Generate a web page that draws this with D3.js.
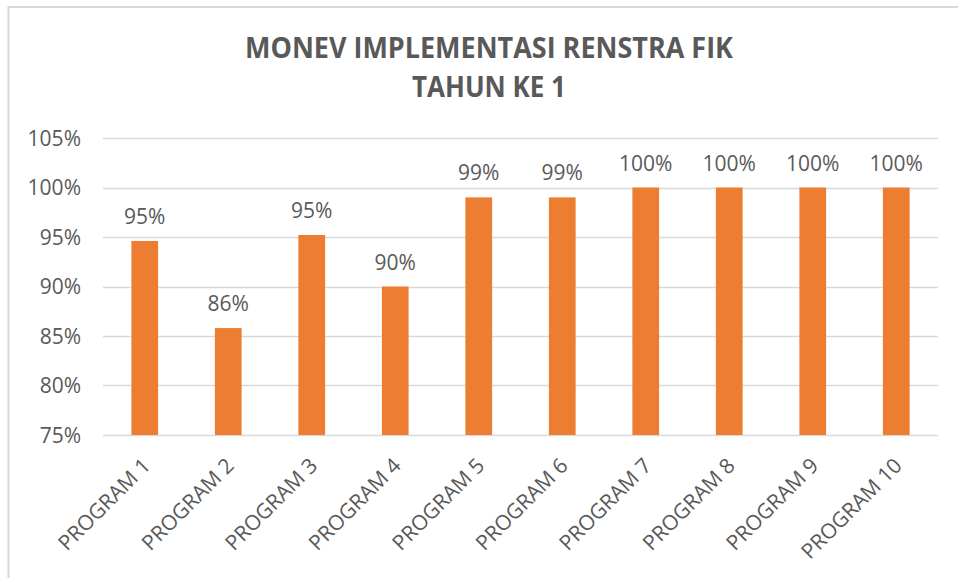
<!DOCTYPE html>
<html>
<head>
<meta charset="utf-8">
<script src="https://cdn.jsdelivr.net/npm/d3@7/dist/d3.min.js"></script>
<style>
  html, body { margin: 0; padding: 0; background: #ffffff; }
  svg { display: block; }
</style>
</head>
<body>
<svg id="chart" width="958" height="578"></svg>
<script>
const categories = ["PROGRAM 1","PROGRAM 2","PROGRAM 3","PROGRAM 4","PROGRAM 5","PROGRAM 6","PROGRAM 7","PROGRAM 8","PROGRAM 9","PROGRAM 10"];
const values = [0.946, 0.858, 0.952, 0.900, 0.990, 0.990, 1.000, 1.000, 1.000, 1.000];
const yTicks = [0.75, 0.80, 0.85, 0.90, 0.95, 1.00, 1.05];
const titleLines = ["MONEV IMPLEMENTASI RENSTRA FIK", "TAHUN KE 1"];

const svg = d3.select("#chart");
const W = 958, H = 578;
const textColor = "#595959";
const font = "'Open Sans', 'Noto Sans', sans-serif";

// outer chart border (light gray, extends past the right/bottom edges)
svg.append("rect")
  .attr("x", 8.5).attr("y", 7)
  .attr("width", W + 10).attr("height", H + 10)
  .attr("fill", "#ffffff")
  .attr("stroke", "#d9d9d9").attr("stroke-width", 2);

const x = d3.scaleBand().domain(categories).range([103, 938]).paddingInner(0.68).paddingOuter(0.34);
const y = d3.scaleLinear().domain([0.75, 1.05]).range([435, 138]);

// gridlines
svg.append("g").selectAll("line").data(yTicks).join("line")
  .attr("x1", 103).attr("x2", 938)
  .attr("y1", d => Math.round(y(d)) + 0.5).attr("y2", d => Math.round(y(d)) + 0.5)
  .attr("stroke", "#d9d9d9").attr("stroke-width", 1.5);

// y axis labels
const yAxis = d3.axisLeft(y).tickValues(yTicks).tickFormat(d3.format(".0%")).tickSize(0).tickPadding(0);
const yg = svg.append("g").attr("transform", "translate(81,0)").call(yAxis);
yg.select(".domain").remove();
yg.selectAll("text")
  .attr("fill", textColor).attr("font-family", font).attr("font-size", 21)
  .attr("dy", "0.35em");

// bars
svg.append("g").selectAll("rect").data(values).join("rect")
  .attr("x", (d, i) => x(categories[i]))
  .attr("width", x.bandwidth())
  .attr("y", d => y(d))
  .attr("height", d => y(0.75) - y(d))
  .attr("fill", "#ED7D31");

// data labels
svg.append("g").selectAll("text").data(values).join("text")
  .attr("x", (d, i) => x(categories[i]) + x.bandwidth() / 2)
  .attr("y", d => y(d) - 17)
  .attr("text-anchor", "middle")
  .attr("fill", textColor).attr("font-family", font).attr("font-size", 21)
  .text(d => d3.format(".0%")(d));

// x axis labels
const xAxis = d3.axisBottom(x).tickSize(0).tickPadding(0);
const xg = svg.append("g").attr("transform", "translate(0,435)").call(xAxis);
xg.select(".domain").remove();
xg.selectAll("text")
  .attr("fill", textColor).attr("font-family", font).attr("font-size", 21)
  .attr("text-anchor", "end")
  .attr("dy", null).attr("y", null)
  .attr("transform", "translate(7,32) rotate(-45)");

// title
const tg = svg.append("g");
tg.append("text")
  .attr("x", 489).attr("y", 58)
  .attr("text-anchor", "middle")
  .attr("fill", textColor).attr("font-family", font).attr("font-weight", "bold").attr("font-size", 28)
  .attr("textLength", 488).attr("lengthAdjust", "spacingAndGlyphs")
  .text(titleLines[0]);
tg.append("text")
  .attr("x", 489).attr("y", 97)
  .attr("text-anchor", "middle")
  .attr("fill", textColor).attr("font-family", font).attr("font-weight", "bold").attr("font-size", 28)
  .attr("textLength", 154).attr("lengthAdjust", "spacingAndGlyphs")
  .text(titleLines[1]);
</script>
</body>
</html>
